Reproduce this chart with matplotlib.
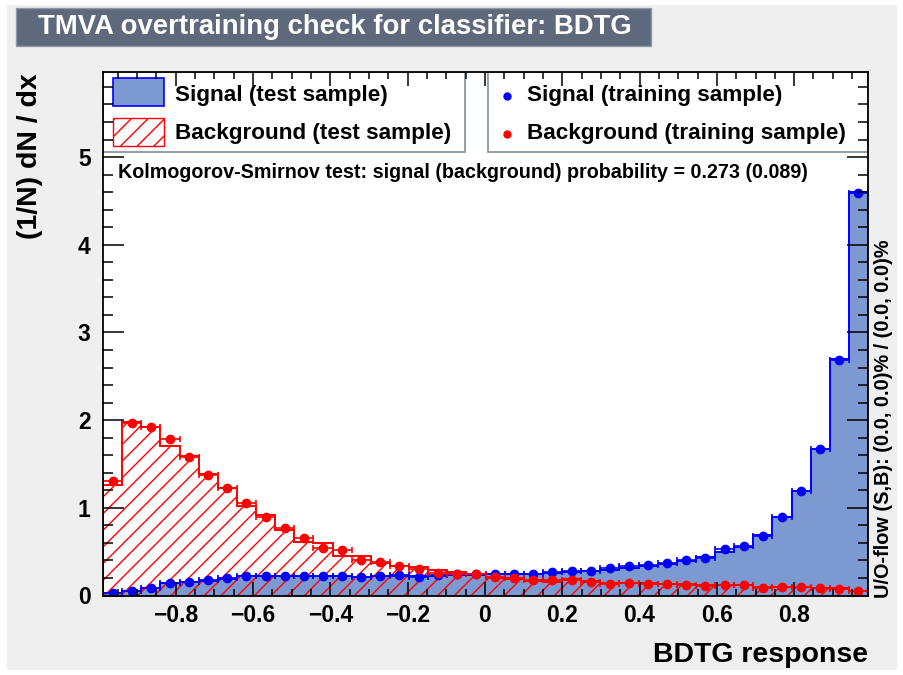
import numpy as np
import matplotlib
matplotlib.use("Agg")
import matplotlib.pyplot as plt
from matplotlib.patches import Rectangle
from matplotlib.ticker import MultipleLocator, FixedLocator, FixedFormatter

plt.rcParams["font.family"] = ["Liberation Sans", "DejaVu Sans"]
plt.rcParams["font.weight"] = "bold"
plt.rcParams["hatch.linewidth"] = 1.0

# BDTG response binning
x_min, x_max, n_bins = -0.988, 0.991, 40
edges = np.linspace(x_min, x_max, n_bins + 1)
centers = 0.5 * (edges[:-1] + edges[1:])
half_w = 0.5 * (edges[1] - edges[0])

# normalised distributions (1/N dN/dx)
sig_test = [0.025, 0.05, 0.085, 0.14, 0.155, 0.17, 0.19, 0.225, 0.225, 0.225,
            0.22, 0.22, 0.22, 0.215, 0.22, 0.225, 0.22, 0.225, 0.235, 0.235,
            0.24, 0.245, 0.25, 0.255, 0.27, 0.28, 0.29, 0.31, 0.34, 0.36,
            0.39, 0.44, 0.50, 0.555, 0.69, 0.895, 1.195, 1.67, 2.70, 4.60]
sig_train = [0.025, 0.055, 0.086, 0.139, 0.154, 0.177, 0.203, 0.226, 0.226, 0.226,
             0.225, 0.225, 0.22, 0.215, 0.22, 0.234, 0.215, 0.234, 0.24, 0.24,
             0.245, 0.25, 0.25, 0.264, 0.276, 0.28, 0.31, 0.333, 0.344, 0.367,
             0.41, 0.43, 0.527, 0.568, 0.68, 0.895, 1.195, 1.67, 2.68, 4.585]
bkg_test = [1.26, 1.98, 1.925, 1.71, 1.59, 1.39, 1.23, 1.02, 0.92, 0.75,
            0.61, 0.595, 0.45, 0.45, 0.375, 0.34, 0.33, 0.29, 0.27, 0.24,
            0.20, 0.19, 0.165, 0.15, 0.185, 0.16, 0.145, 0.14, 0.14, 0.13,
            0.13, 0.12, 0.12, 0.12, 0.10, 0.10, 0.10, 0.09, 0.08, 0.05]
bkg_train = [1.31, 1.97, 1.92, 1.78, 1.58, 1.37, 1.23, 1.06, 0.90, 0.77,
             0.66, 0.545, 0.515, 0.405, 0.38, 0.336, 0.30, 0.26, 0.25, 0.24,
             0.21, 0.196, 0.177, 0.177, 0.177, 0.157, 0.128, 0.139, 0.134, 0.128,
             0.116, 0.112, 0.116, 0.116, 0.09, 0.093, 0.097, 0.08, 0.074, 0.048]

x_ticks = [-0.8, -0.6, -0.4, -0.2, 0.0, 0.2, 0.4, 0.6, 0.8]
x_tick_labels = ["\u22120.8", "\u22120.6", "\u22120.4", "\u22120.2", "0", "0.2", "0.4", "0.6", "0.8"]

ks_text = "Kolmogorov-Smirnov test: signal (background) probability = 0.273 (0.089)"
flow_text = "U/O-flow (S,B): (0.0, 0.0)% / (0.0, 0.0)%"

sig_fill = "#7d99d1"
sig_line = "#0000ff"
bkg_line = "#ff0000"

fig = plt.figure(figsize=(9.04, 6.75), dpi=100, facecolor="white")

# canvas background and title box
fig.patches.append(Rectangle((7 / 904, 5 / 675), 890 / 904, 665 / 675,
                             transform=fig.transFigure, facecolor="#efefef",
                             edgecolor="none", zorder=-10))
fig.patches.append(Rectangle((16 / 904, 1 - 46 / 675), 635 / 904, 38 / 675,
                             transform=fig.transFigure, facecolor="#5e6a7c",
                             edgecolor="#8e99a8", linewidth=1.0, zorder=-5))
fig.text(38 / 904, 1 - 27 / 675, "TMVA overtraining check for classifier: BDTG",
         color="white", fontsize=19.8, ha="left", va="center")

ax = fig.add_axes([103 / 904, 1 - 595.5 / 675, 765 / 904, 523.5 / 675])
ax.set_facecolor("white")
ax.set_axisbelow(False)

# test samples as histograms
ax.stairs(sig_test, edges, fill=True, facecolor=sig_fill, edgecolor="none",
          linewidth=0, zorder=1.0)
ax.stairs(bkg_test, edges, fill=True, facecolor="none", edgecolor=bkg_line,
          hatch="//", linewidth=0, zorder=1.1)
ax.stairs(sig_test, edges, color=sig_line, linewidth=1.4, zorder=1.2)
ax.stairs(bkg_test, edges, color=bkg_line, linewidth=1.4, zorder=1.3)

# training samples as points with errors
ax.errorbar(centers, sig_train, xerr=half_w, yerr=0.012, fmt="o", color=sig_line,
            ms=6, elinewidth=1.2, capsize=2.5, capthick=1.2, zorder=1.4)
ax.errorbar(centers, bkg_train, xerr=half_w, yerr=0.012, fmt="o", color=bkg_line,
            ms=6, elinewidth=1.2, capsize=2.5, capthick=1.2, zorder=1.5)

ax.set_xlim(x_min, x_max)
ax.set_ylim(0, 5.97)

ax.xaxis.set_major_locator(FixedLocator(x_ticks))
ax.xaxis.set_major_formatter(FixedFormatter(x_tick_labels))
ax.xaxis.set_minor_locator(MultipleLocator(0.05))
ax.yaxis.set_major_locator(MultipleLocator(1))
ax.yaxis.set_minor_locator(MultipleLocator(0.2))
ax.tick_params(which="both", direction="in", top=True, right=True, width=1.1,
               labelsize=16.5)
ax.tick_params(axis="x", which="major", length=10, pad=6)
ax.tick_params(axis="x", which="minor", length=5)
ax.tick_params(axis="y", which="major", length=15, pad=9)
ax.tick_params(axis="y", which="minor", length=7)
for spine in ax.spines.values():
    spine.set_linewidth(1.3)

# legend boxes
box_y0 = (595.5 - 152) / 523.5
for x0, x1 in [(0.0, 0.473), (0.503, 1.0)]:
    ax.add_patch(Rectangle((x0, box_y0), x1 - x0, 1 - box_y0, transform=ax.transAxes,
                           facecolor="white", edgecolor="#8a96a8", linewidth=1.3,
                           zorder=2.0))

row_y = [(595.5 - 95.5) / 523.5, (595.5 - 133.5) / 523.5]
ax.add_patch(Rectangle((0.013, 0.935), 0.067, 0.0535, transform=ax.transAxes,
                       facecolor=sig_fill, edgecolor=sig_line, linewidth=1.2, zorder=2.1))
ax.add_patch(Rectangle((0.013, 0.859), 0.067, 0.0535, transform=ax.transAxes,
                       facecolor="white", edgecolor=bkg_line, hatch="//", linewidth=1.0,
                       zorder=2.1))
ax.text(0.094, row_y[0], "Signal (test sample)", transform=ax.transAxes,
        fontsize=16.2, ha="left", va="center", zorder=3)
ax.text(0.094, row_y[1], "Background (test sample)", transform=ax.transAxes,
        fontsize=16.2, ha="left", va="center", zorder=3)
ax.plot([0.528], [row_y[0]], "o", color=sig_line, ms=5, transform=ax.transAxes,
        zorder=3, clip_on=False)
ax.plot([0.528], [row_y[1]], "o", color=bkg_line, ms=5, transform=ax.transAxes,
        zorder=3, clip_on=False)
ax.text(0.554, row_y[0], "Signal (training sample)", transform=ax.transAxes,
        fontsize=16.2, ha="left", va="center", zorder=3)
ax.text(0.554, row_y[1], "Background (training sample)", transform=ax.transAxes,
        fontsize=16.2, ha="left", va="center", zorder=3)

ax.text(0.0196, (595.5 - 172) / 523.5, ks_text, transform=ax.transAxes,
        fontsize=14.2, ha="left", va="center", zorder=3)

# axis titles
fig.text(30 / 904, 1 - 73 / 675, "(1/N) dN / dx", rotation=90, fontsize=20.5,
         ha="center", va="top")
fig.text(868 / 904, 1 - 655 / 675, "BDTG response", fontsize=20.5,
         ha="right", va="center")
fig.text(884 / 904, 1 - 598 / 675, flow_text, rotation=90, fontsize=14.3,
         ha="center", va="bottom")

fig.savefig("out.png", dpi=100, facecolor=fig.get_facecolor())
